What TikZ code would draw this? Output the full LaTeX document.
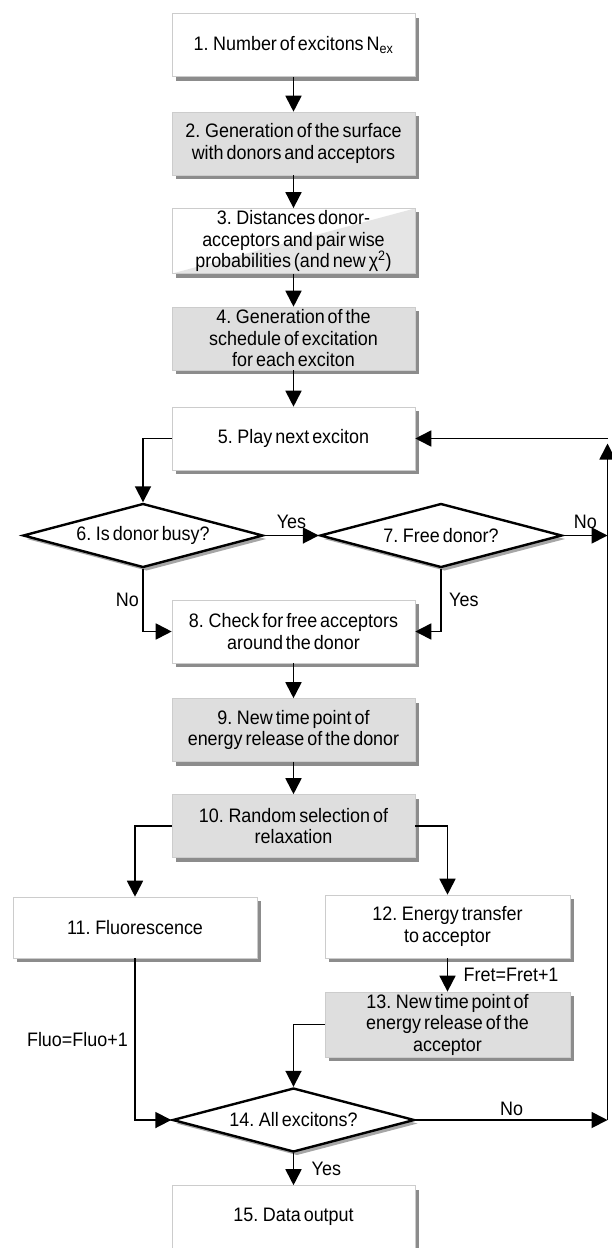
\documentclass[tikz,border=0pt]{standalone}
\usepackage{fontspec}
\setmainfont{Liberation Sans}[FakeStretch=0.92,WordSpace=0.6]
\usetikzlibrary{shapes.geometric,shadows,arrows.meta}

\begin{document}
\begin{tikzpicture}[x=1pt, y=-1pt,
		font=\fontsize{19.5}{21.5}\selectfont,
		box/.style={rectangle, draw=black!20, line width=0.6pt, fill=white, minimum width=243pt, minimum height=63pt, align=center, inner sep=2pt, drop shadow={shadow xshift=4pt, shadow yshift=-4pt, fill=black!45, opacity=1}},
		greybox/.style={box, fill=black!13},
		halfbox/.style={box, path picture={\fill[black!10] (path picture bounding box.south west) -- (path picture bounding box.north east) -- (path picture bounding box.south east) -- cycle;}},
		decision/.style={diamond, draw=black, line width=2.4pt, fill=white, minimum width=242pt, minimum height=64pt, inner sep=0pt, aspect=3.8, drop shadow={shadow xshift=3.5pt, shadow yshift=-3.5pt, fill=black!35, opacity=1}},
		arr/.style={line width=1.8pt, -{Triangle[length=16pt, width=16pt]}}
	]
	\useasboundingbox (0,0) rectangle (612,1248);
	
	% main column
	\node[box] (n1) at (293.5, 45) {1. Number of excitons N\textsubscript{ex}};
	\node[greybox] (n2) at (293.5, 143.5) {2. Generation of the surface\\with donors and acceptors};
	\node[halfbox, minimum height=64pt] (n3) at (293.5, 241) {3. Distances donor-\\acceptors and pair wise\\probabilities (and new χ\textsuperscript{2})};
	\node[greybox] (n4) at (293.5, 338.5) {4. Generation of the\\schedule of excitation\\for each exciton};
	\node[box] (n5) at (293.5, 438.5) {5. Play next exciton};
	
	\node[decision, minimum width=240pt] (d6) at (143, 535.5) {6. Is donor busy?};
	\node[decision] (d7) at (441, 535.5) {7. Free donor?};
	
	\node[box] (n8) at (293.5, 631.5) {8. Check for free acceptors\\around the donor};
	\node[greybox] (n9) at (293.5, 730) {9. New time point of\\energy release of the donor};
	\node[greybox] (n10) at (293.5, 826) {10. Random selection of\\relaxation};
	
	% two branches
	\node[box, minimum width=244pt, minimum height=61pt] (n11) at (135, 927.5) {11. Fluorescence};
	\node[box, minimum width=245pt] (n12) at (447.5, 926.5) {12. Energy transfer\\to acceptor};
	\node[greybox, minimum width=245pt, minimum height=65pt] (n13) at (447.5, 1024.5) {13. New time point of\\energy release of the\\acceptor};
	
	\node[decision] (d14) at (293.5, 1120) {14. All excitons?};
	\node[box] (n15) at (293.5, 1217) {15. Data output};
	
	\coordinate (rail) at (607.5, 0);
	
	% connectors
	\draw[arr] (n1) -- (n2);
	\draw[arr] (n2) -- (n3);
	\draw[arr] (n3) -- (n4);
	\draw[arr] (n4) -- (n5);
	\draw[arr] (n5.west) -| (d6.north);
	\draw[arr] (d6.east) -- node[above=3pt] {Yes} (d7.west);
	\draw[arr] (d7.east) -- node[above=3pt] {No} (d7.east -| rail);
	\draw[arr] (d6.south) |- node[left, pos=0.25] {No} (n8.west);
	\draw[arr] (d7.south) |- node[right=4pt, pos=0.25] {Yes} (n8.east);
	\draw[arr] (n8) -- (n9);
	\draw[arr] (n9) -- (n10);
	\draw[arr] (n10.west) -| (n11.north);
	\draw[arr] (n10.east) -| (n12.north);
	\draw[arr] (n12) -- node[right=12pt] {Fret=Fret+1} (n13);
	\draw[arr] (n13.west) -| (d14.north);
	\draw[arr] (n11.south) |- node[left=3pt, pos=0.25] {Fluo=Fluo+1} (d14.west);
	\draw[arr] (d14.east) -- node[above] {No} (d14.east -| rail);
	\draw[arr, shorten >=5pt] (d14.east -| rail) -- (n5.east -| rail);
	\draw[arr] (n5.east -| rail) -- (n5.east);
	\draw[arr] (d14) -- node[right=14pt] {Yes} (n15);
\end{tikzpicture}
\end{document}
